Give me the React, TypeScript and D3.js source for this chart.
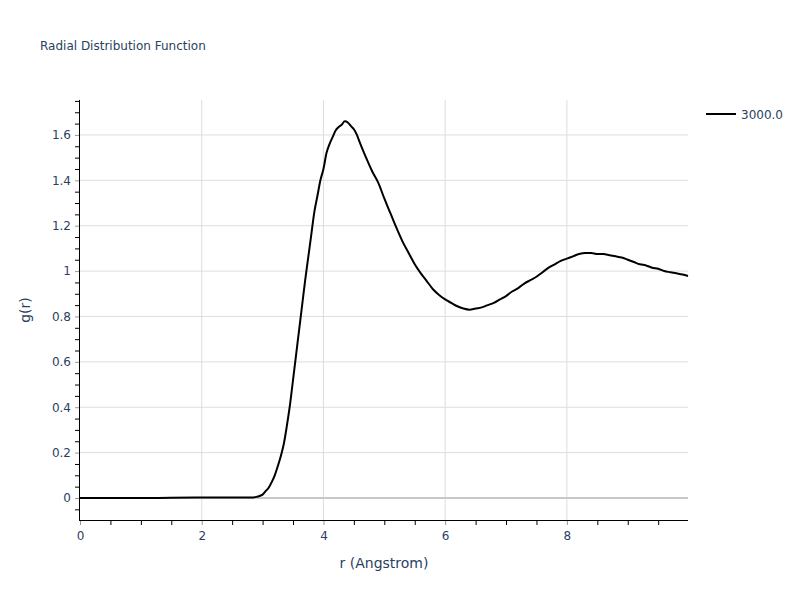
import React, { useEffect, useRef } from "react";
import * as d3 from "d3";

// r (Angstrom) values
const rValues = [
  0, 0.5, 1.0, 1.5, 2.0, 2.5, 2.8, 2.9, 3.0, 3.05, 3.1, 3.15, 3.2, 3.25, 3.3, 3.35, 3.4, 3.45, 3.5, 3.55,
  3.6, 3.65, 3.7, 3.75, 3.8, 3.85, 3.9, 3.95, 4.0, 4.05, 4.1, 4.15, 4.2, 4.25, 4.3, 4.35, 4.4, 4.45, 4.5,
  4.55, 4.6, 4.7, 4.8, 4.9, 5.0, 5.1, 5.2, 5.3, 5.4, 5.5, 5.6, 5.7, 5.8, 5.9, 6.0, 6.1, 6.2, 6.3, 6.4, 6.5,
  6.6, 6.7, 6.8, 6.9, 7.0, 7.1, 7.2, 7.3, 7.4, 7.5, 7.6, 7.7, 7.8, 7.9, 8.0, 8.1, 8.2, 8.3, 8.4, 8.5, 8.6,
  8.7, 8.8, 8.9, 9.0, 9.1, 9.2, 9.3, 9.4, 9.5, 9.6, 9.7, 9.8, 9.9, 9.99,
];

// g(r) values for series "3000.0"
const gValues = [
  0, 0, 0, 0.001, 0.002, 0.002, 0.002, 0.005, 0.015, 0.03, 0.045, 0.07, 0.1, 0.14, 0.185, 0.24, 0.32, 0.41,
  0.52, 0.63, 0.74, 0.85, 0.96, 1.06, 1.16, 1.26, 1.33, 1.4, 1.45, 1.52, 1.56, 1.59, 1.62, 1.635, 1.645,
  1.66, 1.655, 1.64, 1.625, 1.6, 1.565, 1.5, 1.44, 1.39, 1.32, 1.255, 1.19, 1.13, 1.08, 1.03, 0.99, 0.955,
  0.92, 0.895, 0.875, 0.86, 0.845, 0.835, 0.83, 0.835, 0.84, 0.85, 0.86, 0.875, 0.89, 0.91, 0.925, 0.945,
  0.96, 0.975, 0.995, 1.015, 1.03, 1.045, 1.055, 1.065, 1.075, 1.08, 1.08, 1.075, 1.075, 1.07, 1.065, 1.06,
  1.05, 1.04, 1.03, 1.025, 1.015, 1.01, 1.0, 0.995, 0.99, 0.985, 0.978,
];

const seriesName = "3000.0";
const xTicks = [0, 2, 4, 6, 8];
const yTicks = [0, 0.2, 0.4, 0.6, 0.8, 1, 1.2, 1.4, 1.6];

const App = () => {
  const ref = useRef<SVGSVGElement>(null);

  useEffect(() => {
    const svg = d3.select(ref.current);
    svg.selectAll("*").remove();
    const margin = { top: 100, right: 112, bottom: 80, left: 80 };
    const width = 800 - margin.left - margin.right;
    const height = 600 - margin.top - margin.bottom;
    const font = "'DejaVu Sans', verdana, arial, sans-serif";
    const textColor = "#2a3f5f";

    const x = d3.scaleLinear().domain([0, 9.99]).range([0, width]);
    const y = d3.scaleLinear().domain([-0.097, 1.754]).range([height, 0]);

    svg
      .append("text")
      .attr("x", 40)
      .attr("y", 50)
      .attr("font-family", font)
      .attr("font-size", 12)
      .attr("fill", textColor)
      .text("Radial Distribution Function");

    const g = svg.append("g").attr("transform", "translate(" + margin.left + "," + margin.top + ")");

    // grid
    g.selectAll(".vgrid")
      .data(xTicks.filter((d) => d > 0))
      .enter()
      .append("line")
      .attr("x1", (d: number) => x(d))
      .attr("x2", (d: number) => x(d))
      .attr("y1", 0)
      .attr("y2", height)
      .attr("stroke", "#dddddd")
      .attr("stroke-width", 1);
    g.selectAll(".hgrid")
      .data(yTicks.filter((d) => d !== 0))
      .enter()
      .append("line")
      .attr("x1", 0)
      .attr("x2", width)
      .attr("y1", (d: number) => y(d))
      .attr("y2", (d: number) => y(d))
      .attr("stroke", "#dddddd")
      .attr("stroke-width", 1);
    // zero line
    g.append("line")
      .attr("x1", 0)
      .attr("x2", width)
      .attr("y1", y(0))
      .attr("y2", y(0))
      .attr("stroke", "#c8c8c8")
      .attr("stroke-width", 2);

    // curve
    const pts = rValues.map((r, i) => [r, gValues[i]] as [number, number]);
    const line = d3
      .line<[number, number]>()
      .x((d) => x(d[0]))
      .y((d) => y(d[1]))
      .curve(d3.curveMonotoneX);
    g.append("path")
      .datum(pts)
      .attr("d", line)
      .attr("fill", "none")
      .attr("stroke", "#000000")
      .attr("stroke-width", 2);

    // x axis
    const xMinor = d3.range(0, 10, 0.5).filter((d) => d % 2 !== 0);
    const xAxis = g.append("g").attr("transform", "translate(0," + height + ")");
    xAxis
      .call(d3.axisBottom(x).tickValues(xMinor).tickSize(5).tickFormat(() => ""))
      .call((s: any) => s.select(".domain").remove())
      .selectAll("line")
      .attr("stroke", "#000");
    const xMajor = g.append("g").attr("transform", "translate(0," + height + ")");
    xMajor.call(d3.axisBottom(x).tickValues(xTicks).tickSize(5).tickPadding(6).tickFormat(d3.format("d")));
    xMajor.select(".domain").remove();
    xMajor.selectAll("line").attr("stroke", "#999");
    xMajor.selectAll("text").attr("font-family", font).attr("font-size", 12).attr("fill", textColor);
    g.append("line")
      .attr("x1", 0)
      .attr("x2", width)
      .attr("y1", height + 0.5)
      .attr("y2", height + 0.5)
      .attr("stroke", "#000")
      .attr("stroke-width", 1);

    // y axis
    const yMinor = d3.range(-0.05, 1.76, 0.05).filter((d) => Math.abs(d * 5 - Math.round(d * 5)) > 1e-6);
    const yAxisMinor = g.append("g");
    yAxisMinor.call(d3.axisLeft(y).tickValues(yMinor).tickSize(5).tickFormat(() => ""));
    yAxisMinor.select(".domain").remove();
    yAxisMinor.selectAll("line").attr("stroke", "#000");
    const yAxis = g.append("g");
    yAxis.call(d3.axisLeft(y).tickValues(yTicks).tickSize(5).tickPadding(4).tickFormat(d3.format("~g")));
    yAxis.select(".domain").remove();
    yAxis.selectAll("line").attr("stroke", "#999");
    yAxis.selectAll("text").attr("font-family", font).attr("font-size", 12).attr("fill", textColor);
    g.append("line")
      .attr("x1", -0.5)
      .attr("x2", -0.5)
      .attr("y1", 0)
      .attr("y2", height + 1)
      .attr("stroke", "#000")
      .attr("stroke-width", 1);

    // axis titles
    svg
      .append("text")
      .attr("x", margin.left + width / 2)
      .attr("y", 568)
      .attr("text-anchor", "middle")
      .attr("font-family", font)
      .attr("font-size", 14)
      .attr("fill", textColor)
      .text("r (Angstrom)");
    svg
      .append("text")
      .attr("transform", "translate(30," + (margin.top + height / 2) + ") rotate(-90)")
      .attr("text-anchor", "middle")
      .attr("font-family", font)
      .attr("font-size", 14)
      .attr("fill", textColor)
      .text("g(r)");

    // legend
    const legend = svg.append("g").attr("transform", "translate(706,114)");
    legend.append("line").attr("x1", 0).attr("x2", 30).attr("y1", 0).attr("y2", 0).attr("stroke", "#000").attr("stroke-width", 2);
    legend
      .append("text")
      .attr("x", 35)
      .attr("y", 4.5)
      .attr("font-family", font)
      .attr("font-size", 12)
      .attr("fill", textColor)
      .text(seriesName);
  }, []);

  return (
    <svg
      ref={ref}
      width={800}
      height={600}
      style={{ position: "absolute", left: 0, top: 0, background: "#fff" }}
    />
  );
};

export default App;
